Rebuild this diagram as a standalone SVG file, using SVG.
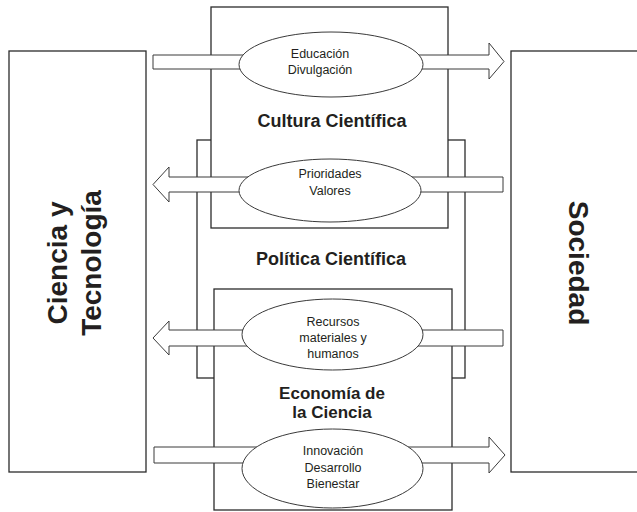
<svg xmlns="http://www.w3.org/2000/svg" width="637" height="512" viewBox="0 0 637 512">
<style>
.box{fill:#fff;stroke:#2b2b2b;stroke-width:1.3}
.arr{fill:#fff;stroke:#3a3a3a;stroke-width:1}
.ell{fill:#fff;stroke:#3a3a3a;stroke-width:1}
.sm{font-family:"Liberation Sans",Arial,sans-serif;font-size:12.5px;fill:#231f20;text-anchor:middle}
.bd{font-family:"Liberation Sans",Arial,sans-serif;font-size:18px;font-weight:bold;fill:#231f20;text-anchor:middle}
.bd2{font-family:"Liberation Sans",Arial,sans-serif;font-size:17px;font-weight:bold;fill:#231f20;text-anchor:middle}
.big{font-family:"Liberation Sans",Arial,sans-serif;font-size:28px;font-weight:bold;fill:#231f20;text-anchor:middle}
</style>
<rect width="637" height="512" fill="#fff"/>
<g id="politica">
<rect class="box" x="197" y="140" width="268" height="238"/>
</g>
<g id="cultura">
<rect class="box" x="211" y="7" width="237" height="221"/>
<text class="bd" x="332" y="127">Cultura Científica</text>
</g>
<g id="economia">
<rect class="box" x="214" y="289" width="238" height="221"/>
<text class="bd2" x="332" y="399">Economía de</text>
<text class="bd2" x="332" y="418">la Ciencia</text>
</g>
<g id="politica-label">
<text class="bd" x="331" y="265">Política Científica</text>
</g>
<g id="ciencia">
<rect class="box" x="9" y="51" width="137" height="421"/>
<text class="big" transform="translate(67,263) rotate(-90)">Ciencia y</text>
<text class="big" transform="translate(101,263) rotate(-90)">Tecnología</text>
</g>
<g id="sociedad">
<rect class="box" x="511" y="51" width="135" height="421"/>
<text class="big" transform="translate(569,263) rotate(90)">Sociedad</text>
</g>
<g id="connectors">
<polygon class="arr" points="153,55 489,55 489,43 504,61.5 489,79 489,69 153,69"/>
<polygon class="arr" points="503,177 169,177 169,167 153,184.5 169,202 169,192 503,192"/>
<polygon class="arr" points="503,330 169,330 169,321 153,338 169,355 169,346 503,346"/>
<polygon class="arr" points="154,447 489,447 489,437 505,455 489,473 489,463 154,463"/>
</g>
<g id="educacion">
<ellipse class="ell" cx="331" cy="64.5" rx="92" ry="32.5"/>
<text class="sm" x="320" y="58">Educación</text>
<text class="sm" x="320" y="74">Divulgación</text>
</g>
<g id="prioridades">
<ellipse class="ell" cx="330" cy="190.5" rx="91" ry="31.5"/>
<text class="sm" x="330" y="178">Prioridades</text>
<text class="sm" x="330" y="195">Valores</text>
</g>
<g id="recursos">
<ellipse class="ell" cx="332.5" cy="334.5" rx="90.5" ry="35.5"/>
<text class="sm" x="333" y="325.5">Recursos</text>
<text class="sm" x="333" y="342">materiales y</text>
<text class="sm" x="333" y="358">humanos</text>
</g>
<g id="innovacion">
<ellipse class="ell" cx="332.5" cy="468.5" rx="90.5" ry="39.5"/>
<text class="sm" x="333" y="455">Innovación</text>
<text class="sm" x="333" y="471.5">Desarrollo</text>
<text class="sm" x="333" y="488">Bienestar</text>
</g>
</svg>
